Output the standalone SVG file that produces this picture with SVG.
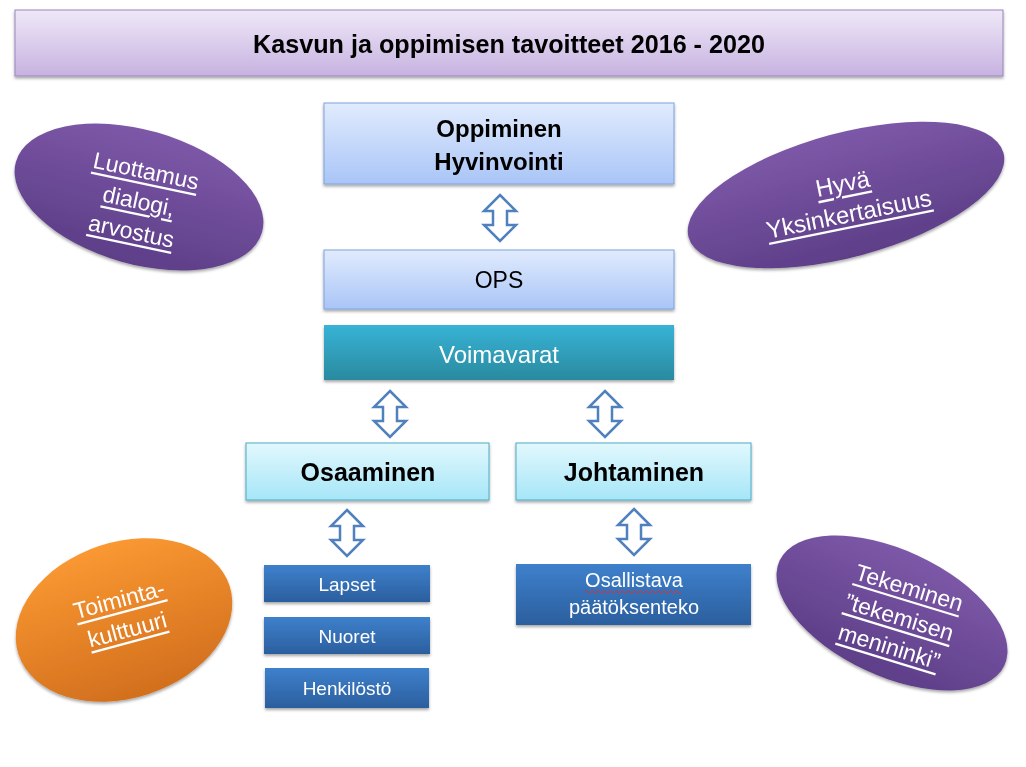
<svg xmlns="http://www.w3.org/2000/svg" width="1026" height="767" viewBox="0 0 1026 767">
<defs>
<linearGradient id="gTitle" x1="0" y1="0" x2="0" y2="1"><stop offset="0" stop-color="#efe8f8"/><stop offset="1" stop-color="#c7b2e0"/></linearGradient>
<linearGradient id="gLight" x1="0" y1="0" x2="0" y2="1"><stop offset="0" stop-color="#e1ebfd"/><stop offset="1" stop-color="#a9c5f7"/></linearGradient>
<linearGradient id="gTeal" x1="0" y1="0" x2="0" y2="1"><stop offset="0" stop-color="#37b3d6"/><stop offset="1" stop-color="#2a8a9f"/></linearGradient>
<linearGradient id="gCyan" x1="0" y1="0" x2="0" y2="1"><stop offset="0" stop-color="#e2f8fd"/><stop offset="1" stop-color="#a6e6f8"/></linearGradient>
<linearGradient id="gBlue" x1="0" y1="0" x2="0" y2="1"><stop offset="0" stop-color="#3e80cc"/><stop offset="1" stop-color="#2b5f9e"/></linearGradient>
<linearGradient id="gPurple" x1="0" y1="0" x2="0" y2="1"><stop offset="0" stop-color="#7d58a8"/><stop offset="1" stop-color="#5d3e88"/></linearGradient>
<linearGradient id="gOrange" x1="0" y1="0" x2="0" y2="1"><stop offset="0" stop-color="#fa9832"/><stop offset="1" stop-color="#d26f1e"/></linearGradient>
<filter id="sh" x="-10%" y="-10%" width="120%" height="130%"><feDropShadow dx="0" dy="2" stdDeviation="1.5" flood-color="#000" flood-opacity="0.35"/></filter>
<path id="dbl" d="M0,-23 L16,-7 L7,-7 L7,7 L16,7 L0,23 L-16,7 L-7,7 L-7,-7 L-16,-7 Z"/>
</defs>
<style>
text{font-family:"Liberation Sans",Arial,sans-serif;text-anchor:middle;dominant-baseline:central}
.b{font-weight:bold;fill:#000}
.w{fill:#fff}
.u{fill:#fff;text-decoration:underline}
.arrow{fill:#fff;stroke:#4f81bd;stroke-width:2.5;stroke-linejoin:miter}
</style>
<rect width="1026" height="767" fill="#fff"/>

<g id="title" filter="url(#sh)">
<rect x="15" y="10" width="988" height="66" fill="url(#gTitle)" stroke="#9b86bd" stroke-width="1"/>
<text x="509" y="44" class="b" font-size="25" textLength="512" lengthAdjust="spacingAndGlyphs">Kasvun ja oppimisen tavoitteet 2016 - 2020</text>
</g>

<g id="oppiminen" filter="url(#sh)">
<rect x="324" y="103" width="350" height="81" fill="url(#gLight)" stroke="#7ea3dc" stroke-width="1"/>
<text x="499" y="128" class="b" font-size="24">Oppiminen</text>
<text x="499" y="161" class="b" font-size="24">Hyvinvointi</text>
</g>

<g id="ops" filter="url(#sh)">
<rect x="324" y="250" width="350" height="59" fill="url(#gLight)" stroke="#7ea3dc" stroke-width="1"/>
<text x="499" y="280" font-size="23" fill="#000">OPS</text>
</g>

<g id="voimavarat" filter="url(#sh)">
<rect x="324" y="325" width="350" height="55" fill="url(#gTeal)"/>
<text x="499" y="354" class="w" font-size="24">Voimavarat</text>
</g>

<g id="osaaminen" filter="url(#sh)">
<rect x="246" y="443" width="243" height="57" fill="url(#gCyan)" stroke="#4bacc6" stroke-width="1"/>
<text x="368" y="472" class="b" font-size="25">Osaaminen</text>
</g>

<g id="johtaminen" filter="url(#sh)">
<rect x="516" y="443" width="235" height="57" fill="url(#gCyan)" stroke="#4bacc6" stroke-width="1"/>
<text x="634" y="472" class="b" font-size="25">Johtaminen</text>
</g>

<g id="lapset" filter="url(#sh)">
<rect x="264" y="565" width="166" height="37" fill="url(#gBlue)"/>
<text x="347" y="584" class="w" font-size="19">Lapset</text>
</g>
<g id="nuoret" filter="url(#sh)">
<rect x="264" y="617" width="166" height="37" fill="url(#gBlue)"/>
<text x="347" y="636" class="w" font-size="19">Nuoret</text>
</g>
<g id="henkilosto" filter="url(#sh)">
<rect x="265" y="668" width="164" height="40" fill="url(#gBlue)"/>
<text x="347" y="688" class="w" font-size="19">Henkilöstö</text>
</g>

<g id="osallistava" filter="url(#sh)">
<rect x="516" y="564" width="235" height="61" fill="url(#gBlue)"/>
<text x="634" y="580" class="w" font-size="20">Osallistava</text>
<path d="M585,592 q1.5,-2 3,0 t3,0 t3,0 t3,0 t3,0 t3,0 t3,0 t3,0 t3,0 t3,0 t3,0 t3,0 t3,0 t3,0 t3,0 t3,0 t3,0 t3,0 t3,0 t3,0 t3,0 t3,0 t3,0 t3,0 t3,0 t3,0 t3,0 t3,0 t3,0 t3,0 t3,0 t3,0" fill="none" stroke="#e03030" stroke-width="1"/>
<text x="634" y="607" class="w" font-size="20">päätöksenteko</text>
</g>

<g id="luottamus" filter="url(#sh)">
<ellipse cx="139" cy="197" rx="128" ry="67" transform="rotate(16 139 197)" fill="url(#gPurple)"/>
<g transform="rotate(12 139 200)">
<text x="140" y="170" class="u" font-size="23">Luottamus</text>
<text x="139" y="201" class="u" font-size="23">dialogi,</text>
<text x="138" y="232" class="u" font-size="23">arvostus</text>
</g>
</g>

<g id="hyva" filter="url(#sh)">
<ellipse cx="846" cy="195" rx="163" ry="62" transform="rotate(-15 846 195)" fill="url(#gPurple)"/>
<g transform="rotate(-11.5 846 200)">
<text x="846" y="183" class="u" font-size="24">Hyvä</text>
<text x="846" y="214" class="u" font-size="24">Yksinkertaisuus</text>
</g>
</g>

<g id="toiminta" filter="url(#sh)">
<ellipse cx="124" cy="620" rx="111" ry="78" transform="rotate(-18 124 620)" fill="url(#gOrange)"/>
<g transform="rotate(-15 123 614)">
<text x="123" y="599" class="u" font-size="23">Toiminta-</text>
<text x="123" y="630" class="u" font-size="23">kulttuuri</text>
</g>
</g>

<g id="tekeminen" filter="url(#sh)">
<ellipse cx="892" cy="613" rx="124" ry="63" transform="rotate(25 892 613)" fill="url(#gPurple)"/>
<g transform="rotate(17 899 618)">
<text x="900" y="586" class="u" font-size="23">Tekeminen</text>
<text x="899" y="617" class="u" font-size="23">”tekemisen</text>
<text x="898" y="648" class="u" font-size="23">menininki”</text>
</g>
</g>

<g id="connectors" class="arrow">
<use href="#dbl" transform="translate(500,218)"/>
<use href="#dbl" transform="translate(390,414)"/>
<use href="#dbl" transform="translate(605,414)"/>
<use href="#dbl" transform="translate(347,533)"/>
<use href="#dbl" transform="translate(634,532)"/>
</g>
</svg>
